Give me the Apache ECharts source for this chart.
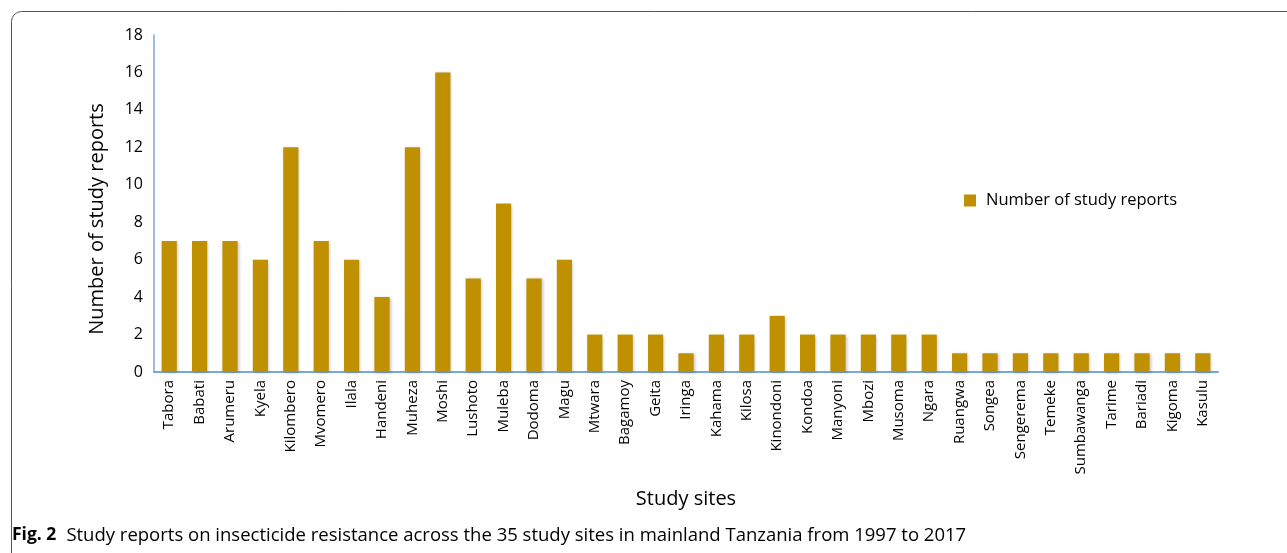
<!DOCTYPE html>
<html><head><meta charset="utf-8">
<script src="https://cdn.jsdelivr.net/npm/echarts@6/dist/echarts.min.js"></script>
<style>html,body{margin:0;padding:0;background:#fff}#c{width:1287px;height:553px}</style>
</head><body><div id="c"></div>
<script>
const categories = ["Tabora","Babati","Arumeru","Kyela","Kilombero","Mvomero","Ilala","Handeni","Muheza","Moshi","Lushoto","Muleba","Dodoma","Magu","Mtwara","Bagamoy","Geita","Iringa","Kahama","Kilosa","Kinondoni","Kondoa","Manyoni","Mbozi","Musoma","Ngara","Ruangwa","Songea","Sengerema","Temeke","Sumbawanga","Tarime","Bariadi","Kigoma","Kasulu"];
const reports = [7,7,7,6,12,7,6,4,12,16,5,9,5,6,2,2,2,1,2,2,3,2,2,2,2,2,1,1,1,1,1,1,1,1,1];
const seriesName = "Number of study reports";
const yTitle = "Number of study reports";
const xTitle = "Study sites";
const yTicks = {min:0,max:18,interval:2};
const caption = "Study reports on insecticide resistance across the 35 study sites in mainland Tanzania from 1997 to 2017";

const chart = echarts.init(document.getElementById('c'));
const font = "'Open Sans', 'Noto Sans', sans-serif";
chart.setOption({
  animation:false,
  textStyle:{fontFamily:font},
  grid:{left:154,right:69,top:35,bottom:181},
  legend:{
    data:[seriesName], left:959, top:187, icon:'rect', itemWidth:12, itemHeight:12, itemGap:10,
    textStyle:{fontSize:16.5,color:'#000',fontFamily:font,padding:[0,0,0,5]}
  },
  xAxis:{
    type:'category', data:categories,
    name:xTitle, nameLocation:'middle', nameGap:117,
    nameTextStyle:{fontSize:20,color:'#000'},
    axisLine:{lineStyle:{color:'#7BA7D9',width:2}},
    axisTick:{show:false},
    axisLabel:{rotate:90,interval:0,fontSize:15,color:'#000',margin:8}
  },
  yAxis:{
    type:'value', min:yTicks.min, max:yTicks.max, interval:yTicks.interval,
    axisLine:{show:true,lineStyle:{color:'#7BA7D9',width:1.5}},
    axisTick:{show:false},
    splitLine:{show:false},
    axisLabel:{fontSize:16,color:'#000',margin:11}
  },
  series:[{
    name:seriesName, type:'bar', data:reports, barWidth:'50%',
    itemStyle:{color:'#BF9000',shadowColor:'rgba(0,0,0,0.25)',shadowBlur:3,shadowOffsetX:1,shadowOffsetY:1}
  }],
  graphic:[
    {type:'rect',left:9,top:9,shape:{width:1300,height:560,r:10},style:{fill:'none',stroke:'#555',lineWidth:1},silent:true},
    {type:'text',x:97,y:219,rotation:Math.PI/2,style:{text:yTitle,fontSize:20,fontFamily:font,fill:'#000',align:'center',verticalAlign:'middle'}},
    {type:'text',left:12,top:526,style:{
      text:'{b|Fig. 2}   {n|'+caption+'}',
      rich:{b:{fontWeight:'bold',fontSize:17.5,fontFamily:font,fill:'#000'},n:{fontSize:18.5,fontFamily:font,fill:'#000'}}
    }}
  ]
});
</script></body></html>
